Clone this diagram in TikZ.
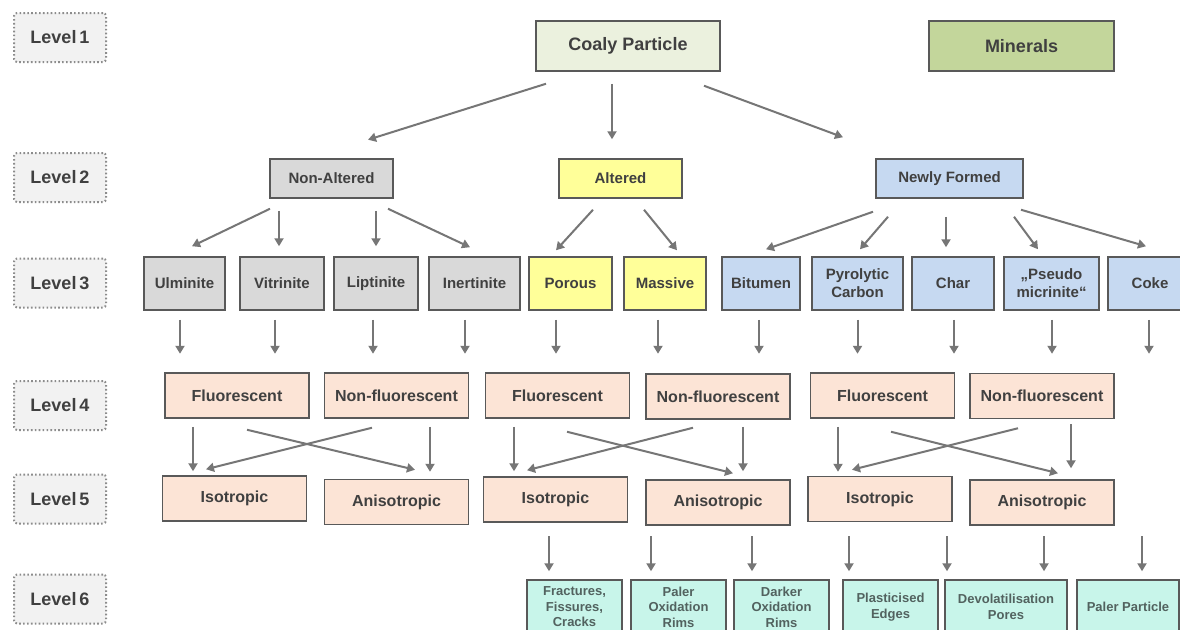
\documentclass[tikz,border=0pt]{standalone}
\usepackage{fontspec}
\setmainfont{Liberation Sans}
\usetikzlibrary{arrows.meta}
\definecolor{txt}{HTML}{404040}
\definecolor{bord}{HTML}{595959}
\definecolor{arrc}{HTML}{767676}
\definecolor{lvlfill}{HTML}{F2F2F2}
\definecolor{lvldot}{HTML}{8C8C8C}
\definecolor{coalyfill}{HTML}{EBF1DE}
\definecolor{minfill}{HTML}{C3D69B}
\definecolor{grayfill}{HTML}{D9D9D9}
\definecolor{yelfill}{HTML}{FFFF99}
\definecolor{bluefill}{HTML}{C6D9F1}
\definecolor{peachfill}{HTML}{FCE4D6}
\definecolor{tealfill}{HTML}{C8F5EA}
\definecolor{tealtxt}{HTML}{52625F}
\tikzset{
  base/.style={draw=bord, line width=1.5pt, inner sep=0pt, align=center, text=txt, font=\bfseries},
  lvl/.style={draw=lvldot, fill=lvlfill, line width=2pt, dash pattern=on 1.6pt off 2.3pt, rounded corners=3pt,
    inner sep=0pt, minimum width=92pt, minimum height=49pt, text=txt, font=\fontsize{18}{20}\selectfont\bfseries},
  top/.style={base, minimum height=50pt, font=\fontsize{18}{20}\selectfont\bfseries},
  lvtwo/.style={base, minimum height=39pt, font=\fontsize{15}{17}\selectfont\bfseries},
  lvthree/.style={base, minimum height=53pt, font=\fontsize{15}{18}\selectfont\bfseries},
  pbox/.style={base, fill=peachfill, minimum width=144pt, minimum height=45pt, font=\fontsize{16}{18}\selectfont\bfseries},
  tbox/.style={base, fill=tealfill, text=tealtxt, minimum height=54pt, font=\fontsize{13}{15.5}\selectfont\bfseries},
  arr/.style={draw=arrc, line width=2pt, -{Triangle[length=8pt,width=9pt]}}
}
\begin{document}
\begin{tikzpicture}[x=1pt,y=-1pt]
\useasboundingbox (0,0) rectangle (1180,629);
\fill[white] (0,0) rectangle (1180,629);
\begin{scope}
\clip (0,0) rectangle (1180,629);
% level labels
\node[lvl] (l1) at (60,37.5) {Level\,1};
\node[lvl] (l2) at (60,177.5) {Level\,2};
\node[lvl] (l3) at (60,283) {Level\,3};
\node[lvl] (l4) at (60,405.5) {Level\,4};
\node[lvl] (l5) at (60,499) {Level\,5};
\node[lvl] (l6) at (60,599) {Level\,6};
% level 1
\node[top, fill=coalyfill, minimum width=184pt] (coaly) at (628,46) {Coaly Particle};
\node[top, fill=minfill, minimum width=185pt] (min) at (1021.5,46) {Minerals};
% level 2
\node[lvtwo, fill=grayfill, minimum width=123pt] (nonalt) at (331.5,178.5) {Non-Altered};
\node[lvtwo, fill=yelfill, minimum width=123pt] (alt) at (620.5,178.5) {Altered};
\node[lvtwo, fill=bluefill, minimum width=147pt] (newly) at (949.5,178.5) {Newly Formed};
% level 3
\node[lvthree, fill=grayfill, minimum width=81pt] (ulm) at (184.5,283.5) {Ulminite};
\node[lvthree, fill=grayfill, minimum width=84pt] (vit) at (282,283.5) {Vitrinite};
\node[lvthree, fill=grayfill, minimum width=84pt] (lip) at (376,283.5) {Liptinite};
\node[lvthree, fill=grayfill, minimum width=91pt] (ine) at (474.5,283.5) {Inertinite};
\node[lvthree, fill=yelfill, minimum width=83pt] (por) at (570.5,283.5) {Porous};
\node[lvthree, fill=yelfill, minimum width=82pt] (mas) at (665,283.5) {Massive};
\node[lvthree, fill=bluefill, minimum width=78pt] (bit) at (761,283.5) {Bitumen};
\node[lvthree, fill=bluefill, minimum width=91pt] (pyr) at (857.5,283.5) {Pyrolytic\\Carbon};
\node[lvthree, fill=bluefill, minimum width=82pt] (char) at (953,283.5) {Char};
\node[lvthree, fill=bluefill, minimum width=95pt] (pse) at (1051.5,283.5) {„Pseudo\\micrinite“};
\node[lvthree, fill=bluefill, minimum width=84pt] (coke) at (1150,283.5) {Coke};
% level 4
\node[pbox] (fa) at (237,395.5) {Fluorescent};
\node[pbox] (na) at (396.5,395.5) {Non-fluorescent};
\node[pbox] (fb) at (557.5,395.5) {Fluorescent};
\node[pbox] (nb) at (718,396.5) {Non-fluorescent};
\node[pbox] (fc) at (882.5,395.5) {Fluorescent};
\node[pbox] (nc) at (1042,396) {Non-fluorescent};
% level 5
\node[pbox] (ia) at (234.5,498.5) {Isotropic};
\node[pbox] (aa) at (396.5,502) {Anisotropic};
\node[pbox] (ib) at (555.5,499.5) {Isotropic};
\node[pbox] (ab) at (718,502.5) {Anisotropic};
\node[pbox] (ic) at (880,499) {Isotropic};
\node[pbox] (ac) at (1042,502.5) {Anisotropic};
% level 6
\node[tbox, minimum width=95pt] (frac) at (574.5,607) {Fractures,\\Fissures,\\Cracks};
\node[tbox, minimum width=95pt] (pox) at (678.5,607) {Paler\\Oxidation\\Rims};
\node[tbox, minimum width=95pt] (dox) at (781.5,607) {Darker\\Oxidation\\Rims};
\node[tbox, minimum width=95pt] (pla) at (890.5,607) {Plasticised\\Edges};
\node[tbox, minimum width=122pt] (dev) at (1006,607) {Devolatilisation\\Pores};
\node[tbox, minimum width=102pt] (pp) at (1128,607) {Paler Particle};
% level 1 -> 2
\draw[arr] ([shift={(-82,12)}]coaly.south) -- ([shift={(36.5,-18.5)}]nonalt.north);
\draw[arr] ([shift={(-16,12)}]coaly.south) -- ([shift={(-8.5,-19)}]alt.north);
\draw[arr] ([shift={(76,14)}]coaly.south) -- ([shift={(-106.5,-21)}]newly.north);
% level 2 -> 3
\draw[arr] ([shift={(-61.5,10)}]nonalt.south) -- ([shift={(7.5,-10)}]ulm.north);
\draw[arr] ([shift={(-52.5,12)}]nonalt.south) -- ([shift={(-3,-10)}]vit.north);
\draw[arr] ([shift={(44.5,12)}]nonalt.south) -- ([shift={(0,-10)}]lip.north);
\draw[arr] ([shift={(56.5,10)}]nonalt.south) -- ([shift={(-4.5,-9)}]ine.north);
\draw[arr] ([shift={(-27.5,11)}]alt.south) -- ([shift={(-14.5,-6)}]por.north);
\draw[arr] ([shift={(23.5,11)}]alt.south) -- ([shift={(12,-6)}]mas.north);
\draw[arr] ([shift={(-76.5,13)}]newly.south) -- ([shift={(5,-7)}]bit.north);
\draw[arr] ([shift={(-61.5,18)}]newly.south) -- ([shift={(2.5,-7)}]pyr.north);
\draw[arr] ([shift={(-3.5,18)}]newly.south) -- ([shift={(-7,-9)}]char.north);
\draw[arr] ([shift={(64.5,18)}]newly.south) -- ([shift={(-13.5,-7)}]pse.north);
\draw[arr] ([shift={(71.5,11)}]newly.south) -- ([shift={(-4,-10)}]coke.north);
% level 3 -> 4 (free ends)
\foreach \n/\dx in {ulm/-4.5, vit/-7, lip/-3, ine/-9.5, por/-14.5, mas/-7, bit/-2, pyr/0, char/1, pse/0.5, coke/-1}
  \draw[arr] ([shift={(\dx,9)}]\n.south) -- ++(0,34);
% level 4 -> 5, group 1
\draw[arr] ([shift={(-44,8)}]fa.south) -- ([shift={(-41.5,-4)}]ia.north);
\draw[arr] ([shift={(-24.5,9)}]na.south) -- ([shift={(-28.5,-6)}]ia.north);
\draw[arr] ([shift={(10,11)}]fa.south) -- ([shift={(18.5,-9)}]aa.north);
\draw[arr] ([shift={(33.5,8)}]na.south) -- ([shift={(33.5,-7)}]aa.north);
% group 2
\draw[arr] ([shift={(-43.5,8)}]fb.south) -- ([shift={(-41.5,-5)}]ib.north);
\draw[arr] ([shift={(-25,8)}]nb.south) -- ([shift={(-28.5,-6)}]ib.north);
\draw[arr] ([shift={(9.5,13)}]fb.south) -- ([shift={(15,-6)}]ab.north);
\draw[arr] ([shift={(25,7)}]nb.south) -- ([shift={(25,-8)}]ab.north);
% group 3
\draw[arr] ([shift={(-44.5,8)}]fc.south) -- ([shift={(-42,-4)}]ic.north);
\draw[arr] ([shift={(-24,9)}]nc.south) -- ([shift={(-28,-6)}]ic.north);
\draw[arr] ([shift={(8.5,13)}]fc.south) -- ([shift={(16,-6)}]ac.north);
\draw[arr] ([shift={(29,5)}]nc.south) -- ([shift={(29,-11)}]ac.north);
% level 5 -> 6 (free starts)
\foreach \n/\dx in {frac/-25.5, pox/-27.5, dox/-29.5, pla/-41.5, dev/-59, dev/38, pp/14}
  \draw[arr] ([shift={(\dx,-43)}]\n.north) -- ([shift={(\dx,-8)}]\n.north);
\end{scope}
\end{tikzpicture}
\end{document}
